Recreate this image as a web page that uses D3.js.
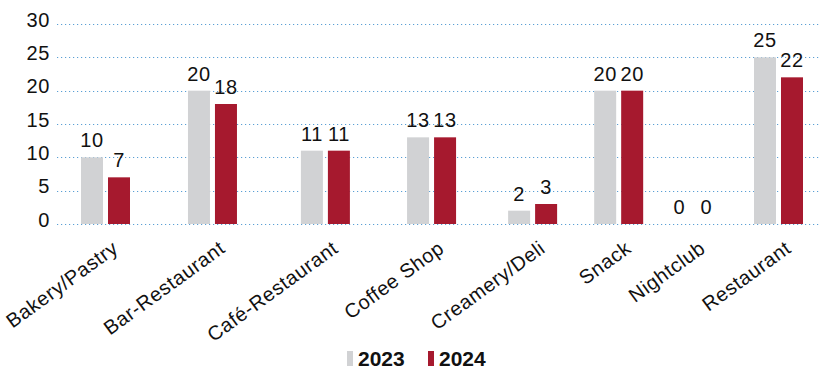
<!DOCTYPE html>
<html>
<head>
<meta charset="utf-8">
<script src="https://cdn.jsdelivr.net/npm/d3@7"></script>
<style>
  html, body { margin: 0; padding: 0; background: #fff; }
  svg { display: block; font-family: "Liberation Sans", Arial, Helvetica, sans-serif; }
</style>
</head>
<body>
<svg id="chart" width="821" height="372"></svg>
<script>
// Establishments by type, 2023 vs 2024
const categories = ["Bakery/Pastry", "Bar-Restaurant", "Café-Restaurant", "Coffee Shop",
                    "Creamery/Deli", "Snack", "Nightclub", "Restaurant"];
const values2023 = [10, 20, 11, 13, 2, 20, 0, 25];
const values2024 = [7, 18, 11, 13, 3, 20, 0, 22];
const years = ["2023", "2024"];
const yTicks = [0, 5, 10, 15, 20, 25, 30];

const colors = { "2023": "#d1d2d4", "2024": "#a6192e" };
const plotTop = 24, plotBottom = 224, gridLeft = 57, gridRight = 819;
const firstCenter = 105.5, lastCenter = 778.5;
const fontSize = 20, letterSpacing = 0.6;
const textColor = "#111";

const svg = d3.select("#chart");

const y = d3.scaleLinear().domain([0, 30]).range([plotBottom, plotTop]);

// Category labels are measured first: each category gets horizontal room
// that grows with the length of its own label and its neighbour's.
const probe = svg.append("g");
const widths = categories.map(c => {
  const t = probe.append("text")
    .attr("font-size", fontSize)
    .attr("letter-spacing", letterSpacing)
    .text(c);
  const w = t.node().getComputedTextLength();
  t.remove();
  return w;
});
probe.remove();

const gapBase = 72;
const offsets = [0];
for (let i = 1; i < categories.length; i++) {
  offsets.push(offsets[i - 1] + gapBase + (widths[i - 1] + widths[i]) / 2);
}
const pos = d3.scaleLinear()
  .domain([0, offsets[offsets.length - 1]])
  .range([firstCenter, lastCenter]);
const x0 = d3.scaleOrdinal(categories, offsets.map(o => pos(o)));

const groupWidth = 49;
const x1 = d3.scaleBand().domain(years).range([-groupWidth / 2, groupWidth / 2]).paddingInner(0.185);

// Grid lines
svg.append("g")
  .selectAll("line")
  .data(yTicks)
  .join("line")
  .attr("x1", gridLeft)
  .attr("x2", gridRight)
  .attr("y1", d => Math.round(y(d)) + 0.5)
  .attr("y2", d => Math.round(y(d)) + 0.5)
  .attr("stroke", "#5a9fd4")
  .attr("stroke-width", 1)
  .attr("stroke-dasharray", "1.2,2.8");

// Y axis labels
const yAxis = d3.axisLeft(y).tickValues(yTicks).tickSize(0).tickPadding(0);
const yAxisG = svg.append("g")
  .attr("transform", "translate(50,0)")
  .call(yAxis);
yAxisG.select(".domain").remove();
yAxisG.selectAll("text")
  .attr("font-family", "Liberation Sans, Arial, sans-serif")
  .attr("font-size", fontSize)
  .attr("letter-spacing", letterSpacing)
  .attr("fill", textColor)
  .attr("dy", null)
  .attr("y", 2);

// Bars
const rows = categories.map((c, i) => ({ cat: c, vals: { "2023": values2023[i], "2024": values2024[i] } }));
const groups = svg.append("g")
  .selectAll("g")
  .data(rows)
  .join("g")
  .attr("transform", d => `translate(${x0(d.cat)},0)`);

groups.selectAll("rect")
  .data(d => years.map(yr => ({ yr, v: d.vals[yr] })))
  .join("rect")
  .attr("x", d => x1(d.yr))
  .attr("width", x1.bandwidth())
  .attr("y", d => y(d.v))
  .attr("height", d => y(0) - y(d.v))
  .attr("fill", d => colors[d.yr]);

groups.selectAll("text.val")
  .data(d => years.map(yr => ({ yr, v: d.vals[yr] })))
  .join("text")
  .attr("class", "val")
  .attr("x", d => x1(d.yr) + x1.bandwidth() / 2)
  .attr("y", d => y(d.v) - 10)
  .attr("text-anchor", "middle")
  .attr("font-size", fontSize)
  .attr("letter-spacing", letterSpacing)
  .attr("fill", textColor)
  .text(d => d.v);

// Rotated category labels
svg.append("g")
  .selectAll("text")
  .data(categories)
  .join("text")
  .attr("transform", d => `translate(${x0(d) + 14},251) rotate(-36)`)
  .attr("text-anchor", "end")
  .attr("font-size", fontSize)
  .attr("letter-spacing", letterSpacing)
  .attr("fill", textColor)
  .text(d => d);

// Legend
const legend = svg.append("g").attr("transform", "translate(347,351)");
const items = legend.selectAll("g")
  .data(years)
  .join("g")
  .attr("transform", (d, i) => `translate(${i * 81},0)`);
items.append("rect")
  .attr("width", 6)
  .attr("height", 15)
  .attr("fill", d => colors[d]);
items.append("text")
  .attr("x", 11)
  .attr("y", 15)
  .attr("font-size", 21)
  .attr("font-weight", "bold")
  .attr("fill", "#111")
  .text(d => d);
</script>
</body>
</html>
